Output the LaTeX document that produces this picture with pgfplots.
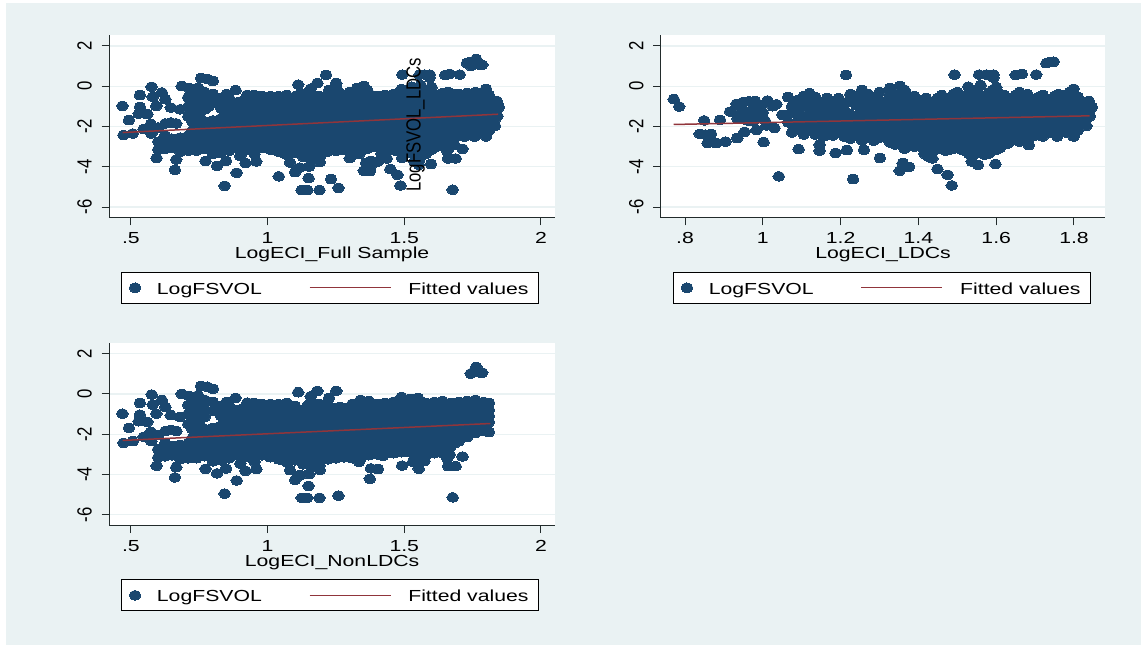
\documentclass[border=0pt]{standalone}
\usepackage{pgfplots}
\usepackage{pgfplotstable}
\pgfplotsset{compat=1.18}
\usepackage{fontspec}
\newfontfamily\hfontfam[FakeStretch=1.325]{Liberation Sans}
\newfontfamily\vfontfam[FakeStretch=0.815]{Liberation Sans}
\newcommand\hf{\fontsize{16}{18}\selectfont\hfontfam}
\newcommand\vf{\fontsize{20.5}{22}\selectfont\vfontfam}
\definecolor{bgc}{HTML}{EAF2F3}
\definecolor{dotc}{HTML}{1A476F}
\definecolor{fitc}{HTML}{90353B}
\definecolor{axc}{HTML}{222B2B}
\pgfplotstableread[row sep=\\]{
x y\\
.771 -.645\\.785 -1.01\\.849 -1.70\\.838 -2.37\\.852 -2.4\\.867 -2.37\\.858 -2.83\\.879 -2.83\\.904 -2.75\\.89 -1.67\\
.934 -2.58\\.953 -2.27\\.984 -2.17\\1.002 -2.78\\1.03 -2.08\\1.041 -4.48\\1.092 -3.13\\1.146 -2.9\\1.146 -3.2\\1.187 -3.32\\
1.216 -3.18\\1.232 -4.62\\1.26 -3.16\\1.301 -3.57\\1.214 .56\\1.493 .58\\1.556 .58\\1.575 .58\\1.593 .58\\1.593 .43\\
1.65 .56\\1.666 .61\\1.703 .58\\1.729 1.14\\1.739 1.19\\1.748 1.22\\1.475 -4.4\\1.449 -4.12\\1.486 -4.93\\1.352 -4.2\\
1.36 -3.82\\1.376 -4.0\\1.416 -3.36\\1.425 -3.49\\1.436 -3.59\\1.439 -3.19\\1.537 -3.74\\1.553 -3.9\\1.598 -3.87\\1.684 -2.93\\
1.799 -2.5\\1.757 -2.5\\1.832 -1.97\\1.841 -1.49\\1.846 -1.04\\1.838 -.73\\1.799 -.13\\
.932 -.88\\.95 -.78\\.965 -.75\\.98 -.73\\.995 -.95\\.945 -1.15\\.916 -1.26\\.935 -1.6\\.955 -1.45\\.97 -1.2\\.985 -1.5\\.96 -1.7\\.975 -1.75\\1.0 -1.3\\1.005 -1.7\\1.012 -.71\\1.025 -1.0\\1.035 -.9\\1.01 -1.95\\
1.05 -1.42\\1.065 -.55\\1.065 -1.4\\1.065 -1.8\\1.075 -1.0\\1.075 -1.9\\1.075 -2.3\\1.09 -.7\\1.09 -1.3\\1.09 -1.7\\1.09 -2.1\\
1.105 -.5\\1.105 -.95\\1.105 -1.55\\1.105 -2.0\\1.105 -2.4\\1.12 -.35\\1.12 -.8\\1.12 -1.2\\1.12 -1.75\\1.12 -2.2\\
1.135 -.55\\1.135 -1.0\\1.135 -1.45\\1.135 -1.9\\1.135 -2.4\\1.155 -1.15\\1.155 -1.6\\1.155 -2.05\\1.155 -2.5\\
1.165 -.6\\1.165 -.95\\1.165 -1.8\\1.165 -2.4\\1.18 -.75\\1.18 -1.2\\1.18 -1.6\\1.18 -2.0\\1.18 -2.45\\
1.195 -.6\\1.195 -1.0\\1.195 -1.4\\1.195 -1.85\\1.195 -2.3\\1.21 -1.2\\1.21 -1.6\\1.21 -2.05\\1.21 -2.5\\
1.225 -.4\\1.225 -.75\\1.225 -1.4\\1.225 -1.85\\1.225 -2.25\\1.225 -2.6\\1.24 -.5\\1.24 -.95\\1.24 -1.6\\1.24 -2.0\\1.24 -2.45\\
1.255 -.18\\1.255 -.7\\1.255 -1.15\\1.255 -1.8\\1.255 -2.25\\1.255 -2.7\\1.27 -.4\\1.27 -.9\\1.27 -1.4\\1.27 -2.0\\1.27 -2.5\\
1.285 -.55\\1.285 -1.1\\1.285 -1.6\\1.285 -2.2\\1.285 -2.7\\1.30 -.3\\1.30 -.75\\1.30 -1.3\\1.30 -1.75\\1.30 -2.2\\1.30 -2.55\\
1.315 -.95\\1.315 -1.45\\1.315 -1.9\\1.315 -2.4\\1.327 -.1\\1.327 -.5\\1.327 -1.2\\1.327 -1.65\\1.327 -2.1\\1.327 -2.8\\
1.34 -.6\\1.34 -1.0\\1.34 -1.4\\1.34 -1.85\\1.34 -2.25\\1.34 -2.6\\1.34 -2.9\\1.353 0\\1.353 -.4\\1.353 -.8\\1.353 -1.2\\1.353 -1.6\\1.353 -2.05\\1.353 -2.45\\1.353 -2.85\\
1.364 -.18\\1.364 -.6\\1.364 -1.0\\1.364 -1.4\\1.364 -1.8\\1.364 -2.25\\1.364 -2.65\\1.364 -3.1\\
1.38 -.7\\1.38 -1.1\\1.38 -1.55\\1.38 -1.95\\1.38 -2.35\\1.38 -2.75\\1.40 -.9\\1.40 -1.3\\1.40 -1.7\\1.40 -2.1\\1.40 -2.5\\1.40 -2.9\\
1.42 -.6\\1.42 -1.05\\1.42 -1.5\\1.42 -1.9\\1.42 -2.3\\1.42 -2.7\\1.42 -3.1\\1.44 -.75\\1.44 -1.2\\1.44 -1.6\\1.44 -2.0\\1.44 -2.45\\1.44 -2.9\\
1.46 -.45\\1.46 -.95\\1.46 -1.4\\1.46 -1.8\\1.46 -2.2\\1.46 -2.6\\1.46 -3.0\\1.48 -.6\\1.48 -1.1\\1.48 -1.55\\1.48 -1.95\\1.48 -2.4\\1.48 -2.8\\1.48 -3.15\\
1.50 -.3\\1.50 -.8\\1.50 -1.25\\1.50 -1.7\\1.50 -2.1\\1.50 -2.55\\1.50 -3.0\\1.528 -.02\\1.52 -.6\\1.52 -1.05\\1.52 -1.5\\1.52 -1.9\\1.52 -2.3\\1.52 -2.75\\1.52 -3.2\\
1.54 -.4\\1.54 -.85\\1.54 -1.3\\1.54 -1.7\\1.54 -2.15\\1.54 -2.6\\1.54 -3.0\\1.54 -3.4\\1.56 .05\\1.56 -.6\\1.56 -1.05\\1.56 -1.5\\1.56 -1.9\\1.56 -2.35\\1.56 -2.8\\1.56 -3.3\\
1.58 -.35\\1.58 -.8\\1.58 -1.25\\1.58 -1.7\\1.58 -2.1\\1.58 -2.55\\1.58 -3.0\\1.58 -3.35\\1.60 -.05\\1.60 -.6\\1.60 -1.05\\1.60 -1.5\\1.60 -1.9\\1.60 -2.35\\1.60 -2.8\\1.60 -3.15\\
1.62 -.45\\1.62 -.85\\1.62 -1.3\\1.62 -1.7\\1.62 -2.15\\1.62 -2.6\\1.64 -.6\\1.64 -1.05\\1.64 -1.5\\1.64 -1.9\\1.64 -2.35\\1.64 -2.7\\
1.66 -.3\\1.66 -.8\\1.66 -1.25\\1.66 -1.7\\1.66 -2.1\\1.66 -2.55\\1.66 -2.75\\1.68 -.4\\1.68 -.95\\1.68 -1.4\\1.68 -1.85\\1.68 -2.3\\
1.70 -.7\\1.70 -1.2\\1.70 -1.6\\1.70 -2.05\\1.70 -2.45\\1.72 -.45\\1.72 -.9\\1.72 -1.35\\1.72 -1.8\\1.72 -2.25\\1.72 -2.5\\
1.74 -.65\\1.74 -1.1\\1.74 -1.55\\1.74 -2.0\\1.74 -2.3\\1.76 -.4\\1.76 -.85\\1.76 -1.3\\1.76 -1.75\\1.76 -2.2\\
1.78 -.45\\1.78 -1.05\\1.78 -1.5\\1.78 -1.95\\1.78 -2.3\\1.80 -.6\\1.80 -.85\\1.80 -1.25\\1.80 -1.7\\1.80 -2.1\\1.82 -.8\\1.82 -1.1\\1.82 -1.5\\1.82 -1.9\\
% denser core
1.15 -.8\\1.15 -1.4\\1.15 -1.85\\1.15 -2.25\\1.175 -1.4\\1.175 -2.25\\1.21 -.85\\1.21 -1.4\\1.21 -1.85\\1.21 -2.25\\1.25 -1.4\\1.25 -2.0\\1.25 -2.45\\1.29 -.85\\1.29 -1.35\\1.29 -1.85\\1.29 -2.45\\
1.32 -.7\\1.32 -1.2\\1.32 -1.65\\1.32 -2.15\\1.32 -2.6\\1.345 -.8\\1.345 -1.2\\1.345 -1.65\\1.345 -2.05\\1.345 -2.45\\1.37 -.4\\1.37 -.8\\1.37 -1.2\\1.37 -1.6\\1.37 -2.05\\1.37 -2.45\\1.37 -2.85\\
1.39 -.5\\1.39 -.9\\1.39 -1.3\\1.39 -1.75\\1.39 -2.15\\1.39 -2.55\\1.39 -3.0\\1.41 -.7\\1.41 -1.1\\1.41 -1.5\\1.41 -1.9\\1.41 -2.3\\1.41 -2.7\\1.41 -3.05\\
1.43 -.85\\1.43 -1.3\\1.43 -1.7\\1.43 -2.15\\1.43 -2.55\\1.43 -2.95\\1.45 -.6\\1.45 -1.0\\1.45 -1.4\\1.45 -1.8\\1.45 -2.2\\1.45 -2.65\\1.45 -3.1\\
1.47 -.75\\1.47 -1.2\\1.47 -1.6\\1.47 -2.0\\1.47 -2.4\\1.47 -2.8\\1.47 -3.2\\1.49 -.4\\1.49 -.85\\1.49 -1.3\\1.49 -1.75\\1.49 -2.2\\1.49 -2.6\\1.49 -3.1\\
1.51 -.55\\1.51 -1.0\\1.51 -1.45\\1.51 -1.9\\1.51 -2.3\\1.51 -2.75\\1.51 -3.15\\1.53 -.3\\1.53 -.8\\1.53 -1.25\\1.53 -1.7\\1.53 -2.1\\1.53 -2.55\\1.53 -3.0\\1.53 -3.35\\
1.55 -.2\\1.55 -.65\\1.55 -1.1\\1.55 -1.55\\1.55 -1.95\\1.55 -2.4\\1.55 -2.8\\1.55 -3.2\\1.57 -.5\\1.57 -.95\\1.57 -1.4\\1.57 -1.8\\1.57 -2.25\\1.57 -2.7\\1.57 -3.15\\1.57 -3.4\\
1.59 -.2\\1.59 -.6\\1.59 -1.05\\1.59 -1.5\\1.59 -1.9\\1.59 -2.35\\1.59 -2.8\\1.59 -3.2\\1.61 -.4\\1.61 -.85\\1.61 -1.3\\1.61 -1.7\\1.61 -2.15\\1.61 -2.6\\1.61 -3.05\\
1.63 -.65\\1.63 -1.1\\1.63 -1.5\\1.63 -1.95\\1.63 -2.4\\1.63 -2.85\\1.65 -.45\\1.65 -.85\\1.65 -1.3\\1.65 -1.7\\1.65 -2.15\\1.65 -2.55\\
1.67 -.6\\1.67 -1.05\\1.67 -1.5\\1.67 -1.9\\1.67 -2.35\\1.67 -2.7\\1.69 -.75\\1.69 -1.2\\1.69 -1.65\\1.69 -2.1\\1.69 -2.5\\1.71 -.55\\1.71 -1.0\\1.71 -1.45\\1.71 -1.85\\1.71 -2.3\\
1.73 -.7\\1.73 -1.15\\1.73 -1.6\\1.73 -2.05\\1.75 -.5\\1.75 -.95\\1.75 -1.4\\1.75 -1.85\\1.75 -2.3\\1.77 -.65\\1.77 -1.15\\1.77 -1.6\\1.77 -2.05\\1.79 -.3\\1.79 -.8\\1.79 -1.25\\1.79 -1.7\\1.79 -2.15\\
1.81 -.55\\1.81 -1.0\\1.81 -1.35\\1.81 -1.8\\1.81 -2.2\\1.83 -1.25\\1.83 -1.7\\
}\ldc
\pgfplotstableread[row sep=\\]{
x y\\
.469 -.98\\.473 -2.43\\.493 -1.69\\.507 -2.35\\.533 -.45\\.533 -1.03\\.529 -1.36\\.547 -2.13\\.576 -.03\\.58 -.53\\
.613 -.31\\.593 -.98\\.626 -.65\\.646 -1.06\\.56 -1.39\\.573 -1.89\\.626 -1.85\\.666 -1.85\\.646 -1.8\\.594 -3.57\\
.666 -3.64\\.661 -4.15\\.773 -3.72\\.815 -3.95\\.848 -3.71\\.843 -4.95\\.887 -4.3\\.919 -3.82\\.959 -3.74\\.9 -3.46\\
.952 -3.37\\.757 .40\\.779 .36\\.8 .26\\.686 0\\.713 -.1\\.746 -.07\\.883 -.2\\.926 -.43\\1.112 .08\\
1.182 .15\\1.251 .15\\1.158 -.12\\1.225 -.2\\1.082 -3.79\\1.101 -4.27\\1.118 -4.04\\1.152 -3.99\\1.191 -3.77\\1.15 -4.57\\
1.125 -5.16\\1.145 -5.16\\1.19 -5.16\\1.259 -5.05\\1.374 -4.22\\1.378 -3.7\\1.404 -3.74\\1.335 -3.37\\1.422 -3.08\\1.492 -3.56\\
1.532 -3.37\\1.553 -3.72\\1.574 -3.34\\1.657 -3.21\\1.666 -3.01\\1.713 -3.11\\1.66 -3.59\\1.688 -3.59\\1.677 -5.14\\1.75 1.06\\
1.763 1.34\\1.777 1.06\\1.766 1.09\\1.743 1.01\\1.785 1.06\\
.60 -2.05\\.60 -2.75\\.60 -3.15\\.575 -2.35\\.625 -2.45\\.625 -2.85\\.625 -3.1\\.65 -2.6\\.65 -3.05\\.68 -1.15\\.68 -2.55\\.68 -2.95\\.68 -3.25\\
.71 -.55\\.71 -1.0\\.71 -1.5\\.71 -2.45\\.71 -2.9\\.71 -3.2\\.74 -.5\\.74 -.95\\.74 -1.4\\.74 -1.85\\.74 -2.3\\.74 -2.75\\.74 -3.2\\
.77 -.3\\.77 -.75\\.77 -1.15\\.77 -1.75\\.77 -2.2\\.77 -2.65\\.77 -3.1\\.80 -.4\\.80 -.85\\.80 -1.7\\.80 -2.1\\.80 -2.55\\.80 -3.0\\.80 -3.35\\
.83 -.6\\.83 -1.1\\.83 -1.6\\.83 -2.05\\.83 -2.5\\.83 -2.95\\.83 -3.3\\.86 -.6\\.86 -1.05\\.86 -1.55\\.86 -2.0\\.86 -2.45\\.86 -2.9\\.86 -3.2\\
.89 -.8\\.89 -1.3\\.89 -1.75\\.89 -2.2\\.89 -2.65\\.89 -3.05\\.92 -1.0\\.92 -1.5\\.92 -1.95\\.92 -2.4\\.92 -2.85\\.92 -3.15\\
.95 -.65\\.95 -1.1\\.95 -1.55\\.95 -2.0\\.95 -2.45\\.95 -2.9\\.98 -.85\\.98 -1.3\\.98 -1.75\\.98 -2.2\\.98 -2.65\\.98 -3.05\\
1.01 -.5\\1.01 -.95\\1.01 -1.4\\1.01 -1.85\\1.01 -2.3\\1.01 -2.75\\1.01 -3.15\\1.04 -.5\\1.04 -1.05\\1.04 -1.5\\1.04 -1.95\\1.04 -2.4\\1.04 -2.85\\1.04 -3.25\\
1.07 -.45\\1.07 -.9\\1.07 -1.35\\1.07 -1.8\\1.07 -2.25\\1.07 -2.7\\1.07 -3.1\\1.07 -3.4\\1.10 -.6\\1.10 -1.1\\1.10 -1.55\\1.10 -2.0\\1.10 -2.45\\1.10 -2.9\\1.10 -3.3\\
1.13 -.8\\1.13 -1.25\\1.13 -1.7\\1.13 -2.15\\1.13 -2.6\\1.13 -3.05\\1.13 -3.5\\1.16 -.35\\1.16 -.9\\1.16 -1.35\\1.16 -1.8\\1.16 -2.25\\1.16 -2.7\\1.16 -3.15\\1.16 -3.6\\
1.19 -.5\\1.19 -1.0\\1.19 -1.45\\1.19 -1.9\\1.19 -2.35\\1.19 -2.8\\1.19 -3.25\\1.19 -3.55\\1.22 -.55\\1.22 -1.1\\1.22 -1.55\\1.22 -2.0\\1.22 -2.45\\1.22 -2.9\\1.22 -3.25\\
1.25 -.7\\1.25 -1.2\\1.25 -1.65\\1.25 -2.1\\1.25 -2.55\\1.25 -3.0\\1.25 -3.2\\1.28 -.9\\1.28 -1.35\\1.28 -1.8\\1.28 -2.25\\1.28 -2.7\\1.28 -3.15\\
1.31 -.5\\1.31 -1.0\\1.31 -1.45\\1.31 -1.9\\1.31 -2.35\\1.31 -2.8\\1.31 -3.2\\1.34 -.3\\1.34 -.75\\1.34 -1.2\\1.34 -1.65\\1.34 -2.1\\1.34 -2.55\\1.34 -3.0\\1.34 -3.2\\
1.37 -.35\\1.37 -.85\\1.37 -1.3\\1.37 -1.75\\1.37 -2.2\\1.37 -2.65\\1.37 -3.05\\1.40 -.5\\1.40 -1.0\\1.40 -1.45\\1.40 -1.9\\1.40 -2.35\\1.40 -2.8\\1.40 -3.0\\
1.43 -.45\\1.43 -.9\\1.43 -1.35\\1.43 -1.8\\1.43 -2.25\\1.43 -2.7\\1.43 -2.95\\1.46 -.4\\1.46 -.85\\1.46 -1.3\\1.46 -1.75\\1.46 -2.2\\1.46 -2.65\\1.46 -2.95\\
1.49 -.15\\1.49 -.6\\1.49 -1.05\\1.49 -1.5\\1.49 -1.95\\1.49 -2.4\\1.49 -2.9\\1.52 -.25\\1.52 -.75\\1.52 -1.2\\1.52 -1.65\\1.52 -2.1\\1.52 -2.55\\1.52 -2.9\\
1.55 -.2\\1.55 -.65\\1.55 -1.1\\1.55 -1.55\\1.55 -2.0\\1.55 -2.45\\1.55 -2.95\\1.55 -3.1\\1.58 -.45\\1.58 -.9\\1.58 -1.35\\1.58 -1.8\\1.58 -2.25\\1.58 -2.7\\1.58 -3.05\\
1.61 -.4\\1.61 -.85\\1.61 -1.3\\1.61 -1.75\\1.61 -2.2\\1.61 -2.65\\1.61 -2.95\\1.64 -.35\\1.64 -.8\\1.64 -1.25\\1.64 -1.7\\1.64 -2.15\\1.64 -2.6\\1.64 -2.95\\
1.67 -.45\\1.67 -.95\\1.67 -1.4\\1.67 -1.85\\1.67 -2.3\\1.67 -2.6\\1.70 -.4\\1.70 -.85\\1.70 -1.3\\1.70 -1.75\\1.70 -2.2\\1.70 -2.35\\
1.73 -.35\\1.73 -.8\\1.73 -1.25\\1.73 -1.7\\1.73 -2.15\\1.76 -.3\\1.76 -.75\\1.76 -1.2\\1.76 -1.65\\1.76 -1.95\\1.79 -.4\\1.79 -.85\\1.79 -1.3\\1.79 -1.75\\1.79 -1.85\\
1.81 -.45\\1.81 -.8\\1.81 -1.1\\1.81 -1.4\\1.81 -1.9\\
% denser core
.725 -.8\\.725 -1.25\\.725 -1.75\\.725 -2.2\\.725 -2.65\\.755 -1.6\\.85 -.4\\.95 -.45\\.98 -.5\\
.755 -.7\\.755 -1.15\\.755 -2.1\\.755 -2.55\\.755 -3.0\\.785 -2.4\\.785 -2.85\\.785 -1.95\\.815 -2.3\\.815 -2.75\\.815 -3.2\\.815 -1.85\\.845 -.85\\.845 -1.35\\.845 -1.8\\.845 -2.25\\.845 -2.7\\.845 -3.1\\
.875 -1.05\\.875 -1.55\\.875 -2.0\\.875 -2.45\\.875 -2.9\\.905 -.75\\.905 -1.25\\.905 -1.7\\.905 -2.15\\.905 -2.6\\.905 -3.05\\.935 -.85\\.935 -1.3\\.935 -1.75\\.935 -2.2\\.935 -2.65\\
.965 -.9\\.965 -1.35\\.965 -1.8\\.965 -2.25\\.965 -2.7\\.965 -3.05\\.995 -.65\\.995 -1.1\\.995 -1.55\\.995 -2.0\\.995 -2.45\\.995 -2.9\\1.025 -.75\\1.025 -1.2\\1.025 -1.65\\1.025 -2.1\\1.025 -2.55\\1.025 -3.0\\
1.055 -.7\\1.055 -1.15\\1.055 -1.6\\1.055 -2.05\\1.055 -2.5\\1.055 -2.95\\1.055 -3.3\\1.085 -.75\\1.085 -1.2\\1.085 -1.65\\1.085 -2.1\\1.085 -2.55\\1.085 -3.0\\1.115 -.85\\1.115 -1.3\\1.115 -1.75\\1.115 -2.2\\1.115 -2.7\\1.115 -3.15\\
1.145 -.6\\1.145 -1.1\\1.145 -1.55\\1.145 -2.0\\1.145 -2.45\\1.145 -2.9\\1.145 -3.3\\1.175 -.7\\1.175 -1.15\\1.175 -1.6\\1.175 -2.05\\1.175 -2.5\\1.175 -2.95\\1.175 -3.4\\1.205 -.8\\1.205 -1.25\\1.205 -1.7\\1.205 -2.15\\1.205 -2.6\\1.205 -3.05\\
1.235 -.9\\1.235 -1.35\\1.235 -1.8\\1.235 -2.25\\1.235 -2.7\\1.235 -3.1\\1.265 -.65\\1.265 -1.1\\1.265 -1.55\\1.265 -2.0\\1.265 -2.45\\1.265 -2.9\\1.295 -.7\\1.295 -1.2\\1.295 -1.65\\1.295 -2.1\\1.295 -2.55\\1.295 -3.0\\
1.325 -.75\\1.325 -1.25\\1.325 -1.7\\1.325 -2.15\\1.325 -2.6\\1.325 -3.05\\1.355 -.55\\1.355 -1.0\\1.355 -1.45\\1.355 -1.9\\1.355 -2.35\\1.355 -2.8\\1.385 -.65\\1.385 -1.1\\1.385 -1.55\\1.385 -2.0\\1.385 -2.45\\1.385 -2.85\\
1.415 -.7\\1.415 -1.15\\1.415 -1.6\\1.415 -2.05\\1.415 -2.5\\1.415 -2.85\\1.445 -.65\\1.445 -1.1\\1.445 -1.55\\1.445 -2.0\\1.445 -2.45\\1.445 -2.85\\1.475 -.35\\1.475 -.8\\1.475 -1.25\\1.475 -1.7\\1.475 -2.15\\1.475 -2.6\\1.475 -2.9\\
1.505 -.45\\1.505 -.95\\1.505 -1.4\\1.505 -1.85\\1.505 -2.3\\1.505 -2.7\\1.535 -.5\\1.535 -.95\\1.535 -1.4\\1.535 -1.85\\1.535 -2.3\\1.535 -2.75\\1.565 -.4\\1.565 -.85\\1.565 -1.3\\1.565 -1.75\\1.565 -2.2\\1.565 -2.65\\
1.595 -.65\\1.595 -1.1\\1.595 -1.55\\1.595 -2.0\\1.595 -2.45\\1.595 -2.85\\1.625 -.6\\1.625 -1.05\\1.625 -1.5\\1.625 -1.95\\1.625 -2.4\\1.625 -2.8\\1.655 -.55\\1.655 -1.0\\1.655 -1.45\\1.655 -1.9\\1.655 -2.35\\1.655 -2.7\\
1.685 -.65\\1.685 -1.15\\1.685 -1.6\\1.685 -2.05\\1.685 -2.45\\1.715 -.6\\1.715 -1.05\\1.715 -1.5\\1.715 -1.95\\1.745 -.55\\1.745 -1.0\\1.745 -1.45\\1.745 -1.9\\1.775 -.55\\1.775 -1.0\\1.775 -1.5\\1.775 -1.8\\
}\nonldc
\pgfplotsset{
  statapanel/.style={
    scale only axis,
    ymin=-6.546,ymax=2.546,
    height=183pt,
    axis lines*=left,
    axis line style={-,color=axc,line width=1pt},
    axis background/.style={fill=white},
    ymajorgrids,
    grid style={color=bgc,line width=1.2pt},
    ytick={-6,-4,-2,0,2},
    yticklabels={-6,-4,-2,0,2},
    tick align=outside,
    major tick length=7.5pt,
    tick style={color=axc,line width=1pt},
    clip marker paths=true,
    xticklabel style={font=\hf,anchor=base,yshift=-18pt,text=black},
    yticklabel style={font=\vf,xshift=-10pt,rotate=90,anchor=base,text=black},
    xlabel style={font=\hf,at={(axis description cs:0.5,0)},anchor=base,yshift=-41pt},
    legend style={
      at={([xshift=11.7pt,yshift=-53.7pt]axis description cs:0,0)},anchor=north west,
      font=\hf,draw=black,line width=1pt,fill=white,legend columns=2,
      inner xsep=8pt,inner ysep=5.5pt,
      /tikz/column 1/.style={column sep=14pt},
      /tikz/column 2/.style={column sep=45pt},
      /tikz/column 3/.style={column sep=15pt},
    },
    legend cell align=left,
  },
  dots/.style={only marks,mark=*,color=dotc,mark size=4.7pt,mark options={xscale=1.25,line width=0pt,draw=dotc,fill=dotc},
    legend image code/.code={\draw[only marks,mark=*,mark size=4.7pt,mark options={xscale=1.25,line width=0pt,draw=dotc,fill=dotc}] plot coordinates {(0pt,0pt)};}},
  fit/.style={no marks,color=fitc,line width=1.5pt,
    legend image code/.code={\draw[fitc,line width=1.5pt] (0pt,0pt)--(81pt,0pt);}},
}
\newcommand\lo{LogFSVOL\rule{0pt}{14.5pt}}
\newcommand\fv{Fitted values\rule{0pt}{14.5pt}\hspace{14pt}}
\begin{document}
\begin{tikzpicture}[x=1pt,y=1pt]
\fill[white] (0,0) rectangle (1141,645);
\fill[bgc] (6,0) rectangle (1141,642);
% Full sample
\begin{axis}[statapanel,at={(109pt,427pt)},anchor=south west,width=446.2pt,
  xmin=.42,xmax=2.052,xtick={.5,1,1.5,2},xticklabels={.5,1,1.5,2},xlabel={LogECI\_Full Sample}]
\addplot[dots] table {\nonldc};
\addlegendentry{\lo}
\addplot[dots,forget plot] table {\ldc};
\addplot[fit] coordinates {(.47,-2.30)(1.843,-1.39)};
\addlegendentry{\fv}
\end{axis}
% LDCs
\begin{axis}[statapanel,at={(660.9pt,427pt)},anchor=south west,width=444.4pt,
  xmin=.738,xmax=1.8805,xtick={.8,1,1.2,1.4,1.6,1.8},xticklabels={.8,1,1.2,1.4,1.6,1.8},xlabel={LogECI\_LDCs}]
\addplot[dots] table {\ldc};
\addlegendentry{\lo}
\addplot[fit] coordinates {(.771,-1.9)(1.84,-1.47)};
\addlegendentry{\fv}
\end{axis}
% Non-LDCs
\begin{axis}[statapanel,at={(109pt,119.3pt)},anchor=south west,width=446.2pt,
  xmin=.42,xmax=2.052,xtick={.5,1,1.5,2},xticklabels={.5,1,1.5,2},xlabel={LogECI\_NonLDCs}]
\addplot[dots] table {\nonldc};
\addlegendentry{\lo}
\addplot[fit] coordinates {(.47,-2.31)(1.815,-1.47)};
\addlegendentry{\fv}
\end{axis}
\node[rotate=90,font=\vf,anchor=center,inner sep=0pt] at (415.6,520) {LogFSVOL\_LDCs};
\end{tikzpicture}
\end{document}
